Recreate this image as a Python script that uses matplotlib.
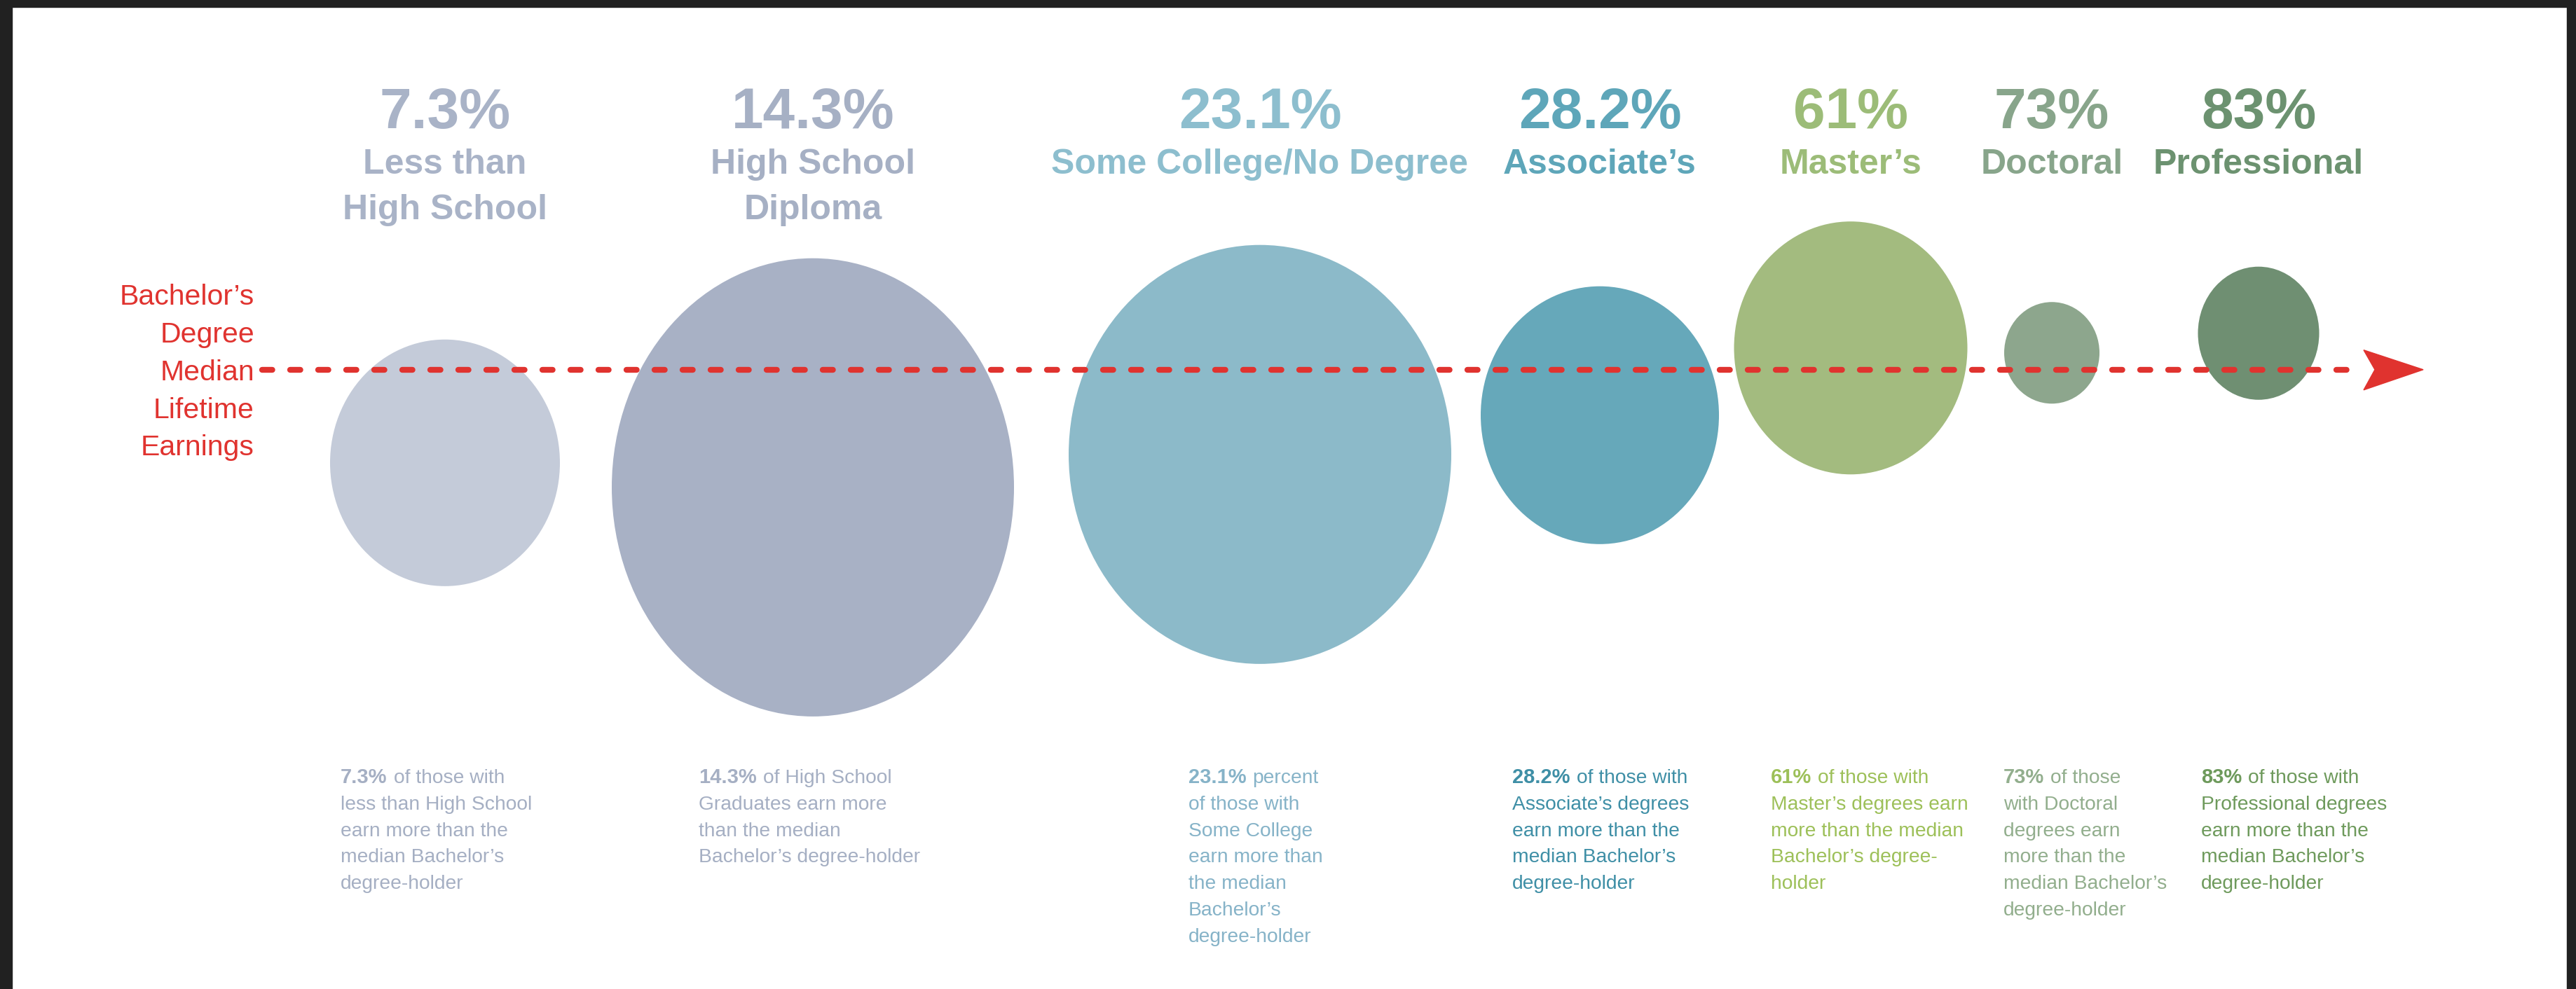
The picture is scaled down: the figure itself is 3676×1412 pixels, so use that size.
import matplotlib
matplotlib.use("Agg")
import matplotlib.pyplot as plt
from matplotlib.patches import Ellipse, Rectangle, Polygon

plt.rcParams['font.family'] = ['Liberation Sans', 'DejaVu Sans']
plt.rcParams['lines.scale_dashes'] = False

# ---------------- data ----------------
categories = ["Less than\nHigh School", "High School\nDiploma", "Some College/No Degree",
              "Associate\u2019s", "Master\u2019s", "Doctoral", "Professional"]
pct_above_median = [7.3, 14.3, 23.1, 28.2, 61, 73, 83]
descriptions = [
    ["of those with", "less than High School", "earn more than the", "median Bachelor\u2019s", "degree-holder"],
    ["of High School", "Graduates earn more", "than the median", "Bachelor\u2019s degree-holder"],
    ["percent", "of those with", "Some College", "earn more than", "the median", "Bachelor\u2019s", "degree-holder"],
    ["of those with", "Associate\u2019s degrees", "earn more than the", "median Bachelor\u2019s", "degree-holder"],
    ["of those with", "Master\u2019s degrees earn", "more than the median", "Bachelor\u2019s degree-", "holder"],
    ["of those", "with Doctoral", "degrees earn", "more than the", "median Bachelor\u2019s", "degree-holder"],
    ["of those with", "Professional degrees", "earn more than the", "median Bachelor\u2019s", "degree-holder"],
]
line_label = ["Bachelor\u2019s", "Degree", "Median", "Lifetime", "Earnings"]

# ---------------- layout (pixel space) ----------------
W, H = 3676, 1412
bubble_x = [635, 1160, 1798, 2283, 2641, 2928, 3223]
bubble_y = [661, 696, 649, 593, 497, 504, 476]
bubble_w = [328, 574, 546, 340, 333, 136, 173]
bubble_h = [352, 654, 598, 368, 361, 145, 190]
desc_x = [486, 997, 1696, 2158, 2527, 2859, 3141]

bubble_colors = ["#C4CBD9", "#A8B1C5", "#8CBAC9", "#66A8BA", "#A3BB7F", "#8DA68D", "#6F8F72"]
head_colors = ["#A9B3C7", "#A6B0C4", "#8DBECE", "#5EA6B9", "#9CBC78", "#88A58B", "#6C9270"]
desc_colors = ["#A5AFC3", "#A5AFC3", "#86B3C8", "#3F8FA6", "#9DC059", "#92AE8D", "#6E9A5C"]
RED = "#E0332F"

fig = plt.figure(figsize=(W / 100, (H + 0.4) / 100), dpi=100)
ax = fig.add_axes([0, 0, 1, 1])
ax.set_xlim(0, W)
ax.set_ylim(H, 0)
ax.axis("off")

# dark frame
ax.add_patch(Rectangle((0, 0), 17, H, color="#212121", zorder=10))
ax.add_patch(Rectangle((3663, 0), W - 3663, H, color="#212121", zorder=10))
ax.add_patch(Rectangle((0, 0), W, 10, color="#212121", zorder=10))

# bubbles
for x, y, w, h, c in zip(bubble_x, bubble_y, bubble_w, bubble_h, bubble_colors):
    ax.add_patch(Ellipse((x, y), w, h, facecolor=c, edgecolor="none", zorder=1))

# dashed median line + arrow head
ax.plot([374, 3368], [528, 528], color=RED, lw=6.0, dashes=(10.5, 18.3),
        dash_capstyle="round", zorder=3)
ax.add_patch(Polygon([(3458, 528), (3373, 500), (3389, 528), (3373, 557)],
                     closed=True, facecolor=RED, edgecolor=RED, lw=1, zorder=3))

# left label
for i, s in enumerate(line_label):
    ax.text(363, 435 + i * 53.8, s, ha="right", va="baseline", fontsize=29.5, color=RED)

# headers
for i, (cat, v) in enumerate(zip(categories, pct_above_median)):
    cx = bubble_x[i]
    ax.text(cx, 183, f"{v:g}%", ha="center", va="baseline", fontsize=59,
            fontweight="bold", color=head_colors[i])
    for j, line in enumerate(cat.split("\n")):
        ax.text(cx, 248 + j * 65, line, ha="center", va="baseline", fontsize=36,
                fontweight="bold", color=head_colors[i])

# descriptions
for i, (v, lines) in enumerate(zip(pct_above_median, descriptions)):
    x0 = desc_x[i]
    b = ax.text(x0, 1118, f"{v:g}%", ha="left", va="baseline", fontsize=21,
                fontweight="bold", color=desc_colors[i])
    ax.annotate(lines[0], xy=(1, 0), xycoords=b, xytext=(6.5, 0),
                textcoords="offset points", ha="left", va="bottom",
                fontsize=20.3, color=desc_colors[i])
    for j, line in enumerate(lines[1:], start=1):
        ax.text(x0, 1118 + j * 37.7, line, ha="left", va="baseline", fontsize=20.3,
                color=desc_colors[i])

fig.savefig("out.png", dpi=100, facecolor="white")
